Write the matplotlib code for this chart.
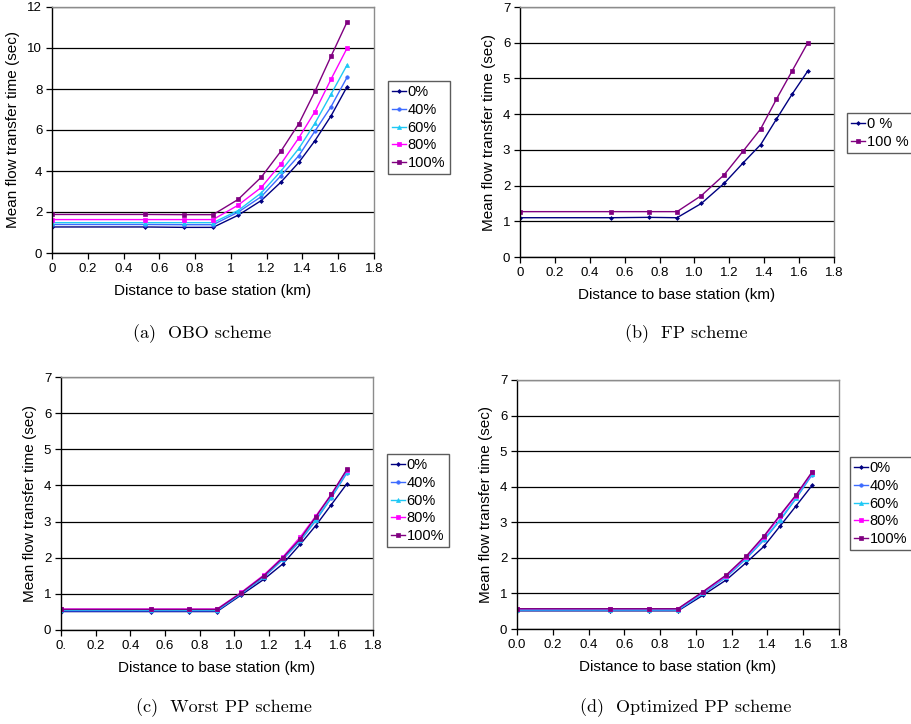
import numpy as np
import matplotlib
matplotlib.use("Agg")
from matplotlib import pyplot as plt

plt.rcParams["font.family"] = ["Liberation Sans", "DejaVu Sans"]

# distances to the base station (km), same for every panel
distance = [0.0, 0.52, 0.74, 0.90, 1.04, 1.17, 1.28, 1.38, 1.47, 1.56, 1.65]

# (a) OBO scheme
obo_labels = ["0%", "40%", "60%", "80%", "100%"]
obo_0 = [1.27, 1.27, 1.25, 1.25, 1.84, 2.56, 3.46, 4.42, 5.48, 6.69, 8.12]
obo_40 = [1.39, 1.39, 1.38, 1.38, 1.99, 2.75, 3.77, 4.75, 5.95, 7.14, 8.58]
obo_60 = [1.48, 1.48, 1.48, 1.48, 2.07, 2.93, 4.00, 5.10, 6.33, 7.75, 9.18]
obo_80 = [1.63, 1.63, 1.63, 1.63, 2.33, 3.20, 4.35, 5.62, 6.90, 8.48, 10.0]
obo_100 = [1.88, 1.88, 1.87, 1.87, 2.61, 3.70, 4.97, 6.31, 7.89, 9.60, 11.28]

# (b) FP scheme
fp_labels = ["0 %", "100 %"]
fp_0 = [1.10, 1.10, 1.11, 1.10, 1.50, 2.06, 2.64, 3.15, 3.86, 4.56, 5.21]
fp_100 = [1.27, 1.27, 1.27, 1.27, 1.72, 2.30, 2.97, 3.59, 4.42, 5.21, 6.00]

# (c) Worst PP scheme
wpp_labels = ["0%", "40%", "60%", "80%", "100%"]
wpp_0 = [0.51, 0.51, 0.51, 0.51, 0.97, 1.40, 1.83, 2.37, 2.89, 3.47, 4.05]
wpp_40 = [0.53, 0.53, 0.53, 0.53, 1.00, 1.46, 1.95, 2.46, 3.03, 3.66, 4.35]
wpp_60 = [0.55, 0.55, 0.55, 0.55, 1.01, 1.48, 1.97, 2.48, 3.05, 3.68, 4.38]
wpp_80 = [0.58, 0.58, 0.58, 0.58, 1.04, 1.52, 2.02, 2.57, 3.15, 3.76, 4.43]
wpp_100 = [0.57, 0.57, 0.57, 0.57, 1.03, 1.50, 2.00, 2.52, 3.13, 3.75, 4.45]

# (d) Optimized PP scheme
opp_labels = ["0%", "40%", "60%", "80%", "100%"]
opp_0 = [0.51, 0.51, 0.51, 0.51, 0.95, 1.38, 1.86, 2.32, 2.89, 3.46, 4.04]
opp_40 = [0.53, 0.53, 0.53, 0.53, 1.00, 1.46, 1.97, 2.50, 3.05, 3.67, 4.34]
opp_60 = [0.54, 0.54, 0.54, 0.54, 1.01, 1.47, 1.98, 2.52, 3.07, 3.68, 4.36]
opp_80 = [0.57, 0.57, 0.57, 0.57, 1.04, 1.50, 2.02, 2.58, 3.17, 3.75, 4.40]
opp_100 = [0.57, 0.57, 0.57, 0.57, 1.05, 1.52, 2.04, 2.61, 3.20, 3.77, 4.42]

# tick labels, as printed in each panel
x_ticks = [0.0, 0.2, 0.4, 0.6, 0.8, 1.0, 1.2, 1.4, 1.6, 1.8]
xlabels_a = ["0", "0.2", "0.4", "0.6", "0.8", "1", "1.2", "1.4", "1.6", "1.8"]
xlabels_b = ["0", "0.2", "0.4", "0.6", "0.8", "1.0", "1.2", "1.4", "1.6", "1.8"]
xlabels_c = ["0.", "0.2", "0.4", "0.6", "0.8", "1.0", "1.2", "1.4", "1.6", "1.8"]
xlabels_d = ["0.0", "0.2", "0.4", "0.6", "0.8", "1.0", "1.2", "1.4", "1.6", "1.8"]

captions = ["(a)  OBO scheme", "(b)  FP scheme",
            "(c)  Worst PP scheme", "(d)  Optimized PP scheme"]

W, H = 911, 724

styles = {
    "0%": {"color": "#000080", "marker": "D", "markersize": 2.0},
    "40%": {"color": "#3d6bff", "marker": "o", "markersize": 2.5},
    "60%": {"color": "#1ec8f5", "marker": "^", "markersize": 2.9},
    "80%": {"color": "#ff00ff", "marker": "s", "markersize": 2.4},
    "100%": {"color": "#800080", "marker": "s", "markersize": 3.2},
}
styles["0 %"] = styles["0%"]
styles["100 %"] = styles["100%"]


def px_axes(fig, left, right, top, bottom):
    return fig.add_axes([left / W, 1 - bottom / H,
                         (right - left) / W, (bottom - top) / H])


def panel(fig, box, series, labels, ymax, ystep, xlabels, leg_xy):
    ax = px_axes(fig, *box)
    for y, lab in zip(series, labels):
        st = styles[lab]
        ax.plot(distance, y, linestyle="-", linewidth=1.0, label=lab,
                markeredgewidth=0.5, **st)

    ax.set_xlim(0, 1.8)
    ax.set_ylim(0, ymax)
    ax.set_xticks(x_ticks)
    ax.set_xticklabels(xlabels)
    ax.set_yticks(np.arange(0, ymax + 0.1, ystep))
    ax.set_yticklabels([f"{v:g}" for v in np.arange(0, ymax + 0.1, ystep)])
    ax.grid(axis="y", color="black", linewidth=0.9)
    ax.set_axisbelow(True)

    for side in ["top", "right"]:
        ax.spines[side].set_color("#8c8c8c")
        ax.spines[side].set_linewidth(1.0)
    for side in ["left", "bottom"]:
        ax.spines[side].set_color("black")
        ax.spines[side].set_linewidth(1.0)

    ax.tick_params(direction="out", length=4, width=0.9, labelsize=9.5,
                   colors="black", pad=3)
    ax.set_xlabel("Distance to base station (km)", fontsize=11, labelpad=7)
    ax.set_ylabel("Mean flow transfer time (sec)", fontsize=11, labelpad=5)

    leg = ax.legend(loc="upper left",
                    bbox_to_anchor=(leg_xy[0] / W, 1 - leg_xy[1] / H),
                    bbox_transform=fig.transFigure,
                    fontsize=10.5, frameon=True, fancybox=False,
                    handlelength=0.9, handletextpad=0.15, labelspacing=0.25,
                    borderpad=0.3, borderaxespad=0, markerscale=1.0)
    leg.get_frame().set_edgecolor("#333333")
    leg.get_frame().set_linewidth(1.0)
    return ax


fig = plt.figure(figsize=(W / 100, H / 100), dpi=100)

panel(fig, (52, 374, 7, 253),
      [obo_0, obo_40, obo_60, obo_80, obo_100], obo_labels,
      12, 2, xlabels_a, (388, 81))
panel(fig, (520, 834, 7, 257), [fp_0, fp_100], fp_labels,
      7, 1, xlabels_b, (847, 113))
panel(fig, (61, 373, 377, 630),
      [wpp_0, wpp_40, wpp_60, wpp_80, wpp_100], wpp_labels,
      7, 1, xlabels_c, (387, 454))
panel(fig, (517, 839, 380, 629),
      [opp_0, opp_40, opp_60, opp_80, opp_100], opp_labels,
      7, 1, xlabels_d, (850, 457))

cap_pos = [(202, 334), (686, 334), (224, 708), (686, 708)]
for (cx, cy), text in zip(cap_pos, captions):
    fig.text(cx / W, 1 - cy / H, text, family=["cmr10", "DejaVu Serif"],
             fontsize=13, ha="center", va="center")

fig.savefig("out.png", dpi=100)
